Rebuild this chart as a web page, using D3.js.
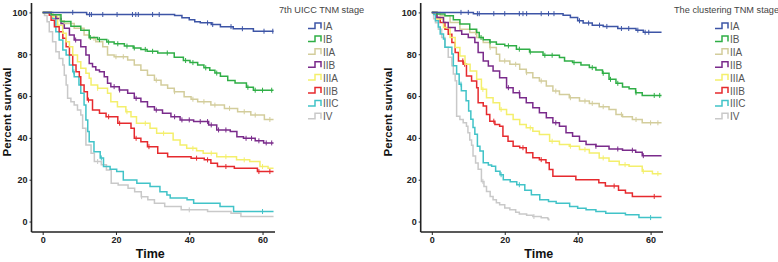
<!DOCTYPE html>
<html>
<head>
<meta charset="utf-8">
<script src="https://cdn.jsdelivr.net/npm/d3@7"></script>
<style>
  body { margin: 0; background: #fff; }
  svg { display: block; font-family: Arial, "Liberation Sans", sans-serif; }
  .axis text { font-size: 9px; font-weight: bold; fill: #222; }
  .axis path, .axis line { stroke: #222; }
</style>
</head>
<body>
<svg id="chart"></svg>
<script>
const stages = ["IA", "IB", "IIA", "IIB", "IIIA", "IIIB", "IIIC", "IV"];
const stageColors = ["#3d55a6", "#2fae46", "#d3cd9c", "#7a2b8b", "#f4ef6c", "#e62a2e", "#41c3c8", "#c9c9c9"];
const xTicks = [0, 20, 40, 60];
const yTicks = [0, 20, 40, 60, 80, 100];

// 7th UICC TNM stage: [time, percent survival] at each step
const uiccIA = [[0,100],[12,99],[36,98.5],[38,97.5],[40,96.5],[41.5,95.5],[43,95],[46,94.2],[48.5,93.2],[52,92.2],[57.5,91]];
const uiccIB = [[0,100],[2.3,98.9],[5,95.7],[7.7,93.4],[10.4,91.5],[12.7,88],[15,87],[17.5,85.8],[19.5,85],[22.3,83.9],[24.7,83],[26.8,82.3],[28.5,81.4],[31.4,80.6],[35.9,78.5],[38.4,77],[40.2,76],[42.3,74.8],[44,73.5],[45.6,72.3],[47,71],[48.5,69.5],[50.5,67.5],[52.5,66.2],[55.6,64.2],[57.5,62.8]];
const uiccIIA = [[0,100],[2.3,98.9],[4.7,96],[5.9,94.7],[8.6,92.4],[11.3,89.2],[12.7,87.6],[14.5,86],[16.4,83.6],[17.7,79.6],[19.5,78.8],[23.2,77.2],[25,74.8],[26.8,72.4],[28.6,70],[30.5,67.6],[32.3,65.3],[34.1,63.7],[35.9,62.1],[38.6,59.7],[40.5,58.5],[42.3,57.3],[45.9,55.7],[49.6,54.1],[53.2,52.5],[56.8,50.9],[60.5,48.8]];
const uiccIIB = [[0,100],[2.3,98.9],[3.6,97.1],[5,94.7],[5.9,92.4],[7.3,89.2],[8.6,86.8],[10.4,83.6],[11.8,79.6],[12.7,75.6],[13.6,74],[14.5,72.5],[15.5,71.6],[16.8,69.2],[17.7,66.1],[18.6,64.5],[20.9,62.9],[23.2,61.3],[25,58.9],[26.8,57.3],[28.6,54.9],[30.5,53.3],[32.7,51.8],[35,50.1],[37.5,48.6],[41.2,47.8],[45.3,46.2],[47.5,43.8],[51.2,43],[53,40.6],[54.8,39.8],[58,38.6],[60.3,37.6]];
const uiccIIIA = [[0,100],[2.7,97.9],[4.1,93.9],[5.5,90],[6.4,86],[7.3,83.6],[8.2,79.6],[9.5,76.4],[10.4,73.3],[11.8,70.9],[12.7,68.5],[13.2,65.3],[15,63.7],[17.7,61.3],[18.6,57.3],[20.4,54.9],[22.7,52.5],[24.1,50.1],[25.6,47],[29.3,44.6],[31.1,42.2],[35.6,39],[37.5,36.6],[39.3,35],[42,33.8],[43.8,32.7],[47.5,31],[52.9,29.5],[56.5,28.7],[59.3,26.3],[61.5,25.5]];
const uiccIIIB = [[0,100],[1.8,98.7],[2.3,96.3],[3.2,93.1],[4.5,90.7],[5.5,87.6],[6.4,83.6],[7.3,79.6],[8.2,74.8],[9.1,71.6],[10,69.2],[10.4,65.3],[11.3,62.1],[12.2,58.1],[13.6,53.3],[15.5,51.8],[17.3,50.1],[20.5,47],[24.1,44.6],[25,39.8],[26.8,38.2],[28.6,35.8],[31.4,32.7],[34.1,31],[40.5,30.3],[44.1,29.5],[45.9,27.9],[47.7,26.3],[52.3,25.5],[58.6,23.9]];
const uiccIIIC = [[0,100],[2.7,97.1],[3.6,90.7],[4.5,86.8],[5.5,82],[6.4,79.6],[7.3,74.8],[8.2,71.6],[8.6,69.2],[9.9,65.3],[10.4,61.3],[11.3,55.7],[11.8,48.6],[12.3,43],[12.7,38.2],[14,33.4],[15.7,30.4],[16.6,26.3],[18.4,25],[20.2,23.9],[22,19.9],[25.7,18.3],[29.3,16.7],[32,14.3],[33.9,12.7],[34.8,11.2],[39.4,10.4],[41.2,8.8],[48.4,7.2],[52.1,4.8]];
const uiccIV = [[0,100],[0.5,98.5],[1.2,95.5],[1.8,90.7],[2.7,86],[3.6,81.2],[4.5,78],[5.5,74.8],[5.9,70],[6.4,65.3],[6.8,58.9],[7.7,57.3],[8.6,55.7],[9.5,53.3],[10.4,51],[10.9,44.6],[11.8,36.6],[13.2,32.7],[14.1,28.7],[16,27.1],[17.4,24.7],[18.7,18.3],[20.6,17.5],[23.3,15.9],[25.1,14.3],[26.9,11.9],[28.7,10.4],[30.5,8.8],[33.3,7.2],[37.8,5.6],[45,4.8],[51.4,4],[54.1,2.4]];
const uiccEnds = [63, 63, 63, 63, 63, 63, 63, 63];
// censored times
const uiccCensIA = [8.2,12.8,13.3,16.4,20.3,24.5,25.4,26.1,30,31.8,45,46.4,51.4,54.5,60.4,62.8];
const uiccCensIB = [13,15.5,18,20.5,23,25,28,30,34,39,41,44.5,47.5,56,58,60,62.5];
const uiccCensIIA = [14,20,22,31,36,41,44,47,51,55,58,62];
const uiccCensIIB = [9,19.5,21,25.5,31,36,38,40,43,45,46,48,50,55.5,57,59,61,62.5];
const uiccCensIIIA = [15,23,28,33,41,46,50,55,60];
const uiccCensIIIB = [12.5,18,21,25.5,29,42,45,50,59,62];
const uiccCensIIIC = [8.5,16,60];
const uiccCensIV = [15,27,40];

// The clustering TNM stage
const clusIA = [[0,100],[11.4,99.4],[36,98.7],[38,97.6],[40,96],[41.5,94.9],[44,93.9],[47,93.3],[51,92.3],[56,91.5],[58,90.5]];
const clusIB = [[0,100],[1.4,99.2],[3.6,98.4],[5.9,96.5],[7.7,94.4],[10.4,92],[12.3,90.4],[13,88],[14.1,86.9],[15.9,85.9],[17.7,84.8],[20,84],[23.2,82.4],[26.8,81.1],[30.5,79.5],[35,78.4],[36.4,76.8],[38.6,76],[40.9,74.9],[43.2,73.6],[45,72.5],[46.8,70.9],[48.6,68],[50.5,66.1],[52.3,64.3],[54.1,63.5],[55.9,61.6],[57.7,60.3]];
const clusIIA = [[0,100],[2.3,98.4],[5,95.2],[7.7,92],[10.4,90.4],[12.3,88],[14.1,85.6],[15.9,83.2],[17.7,80],[18.6,76.8],[21.4,75.2],[24.1,72.8],[25.9,71.2],[27.7,68.8],[29.5,67.2],[31.4,64.8],[33.2,62.4],[35,60.8],[37.7,59.2],[40.5,57.6],[43.2,56.5],[45.9,54.9],[48.6,53.6],[50.5,51.2],[52.3,50.1],[55,48.8],[57.7,47.2]];
const clusIIB = [[0,100],[1.4,97.6],[3.2,95.2],[4.5,92.8],[6.4,91.2],[8.2,89.6],[10,88],[11.8,85.6],[12.7,80.8],[14.1,76.8],[15.5,74.4],[16.8,72],[18.6,68.8],[20.5,64],[22.3,61.6],[24.1,59.2],[25.9,56.8],[27.7,54.4],[29.5,52],[31.4,49.6],[33.2,47.2],[35,45.6],[36.8,42.4],[38.6,40.8],[40.5,38.4],[42.3,36.8],[45,36],[48.6,34.7],[52.3,34.1],[55.9,33.1],[57.7,31.5]];
const clusIIIA = [[0,100],[1.4,96.8],[3.2,92.8],[5,88],[6.4,83.2],[7.7,79.2],[9.1,75.2],[10.5,72],[12.3,68],[13.6,63.2],[15,59.2],[16.8,56.8],[18.6,53.6],[20.5,51.2],[22.3,48.8],[24.1,46.4],[25.9,44.8],[27.7,43.2],[29.5,41.6],[32.3,38.4],[35,36.8],[37.7,36],[40.5,34.4],[43.2,32.8],[45.9,30.4],[48.6,28.8],[51.4,27.2],[54.1,26.4],[57.7,24],[60.5,22.9]];
const clusIIIB = [[0,100],[1.4,97.6],[2.3,95.2],[3.6,92],[4.5,89.6],[5.5,85.6],[6.4,80.8],[7.3,76.8],[8.6,75.2],[9.5,69.6],[10.9,67.2],[12.3,64],[12.7,56.8],[14.1,55.2],[15,51.2],[15.9,48],[17.3,46.4],[18.6,45.6],[19.5,40.8],[20.9,38.4],[22.3,36],[24.1,35.3],[25.9,32.9],[27.7,30.5],[29.5,29.6],[31.3,28.1],[32.2,24.9],[33.2,21.6],[39.5,20],[45.8,18.5],[47.6,17],[51.2,15],[53.1,13.6],[55,12]];
const clusIIIC = [[0,100],[0.5,99],[1,96],[1.8,93],[2.3,89.7],[3.2,87.3],[3.6,83.4],[5.5,80.1],[5.9,74.5],[6.8,70.5],[7.5,65.7],[8.1,62.5],[9.4,57.7],[10.1,52.9],[10.7,48.9],[11.3,45],[11.8,41.7],[12.5,36],[13.2,33.7],[14.1,28.1],[15.5,27],[16.4,26.4],[17.5,24],[18.7,22.4],[19.6,20],[21.5,19],[23.3,17.6],[25.5,15],[27.3,12.8],[29.6,10.4],[32,9.6],[34.1,8.8],[37.8,7.2],[40,6.4],[42.3,5.6],[45,4.8],[47.7,4],[53.1,3.2],[56.8,1.9]];
const clusIV = [[0,100],[0.5,97],[1,95],[1.8,92],[2.7,88],[3.6,83.4],[4.5,78.6],[5.5,74.5],[5.9,70.5],[6.4,67.3],[6.8,50.4],[7.7,48.8],[8.6,47.2],[9.5,45.6],[9.9,42.4],[10.4,39],[10.9,36.5],[11.3,31.3],[12,28],[12.7,25],[13.6,19.2],[14.3,16.8],[15,14.4],[16,12],[16.8,10.4],[17.7,9],[18.6,8],[20,6.5],[21.4,5.6],[23,4.4],[24,3.6],[26,3],[27.7,2.4],[30,1.8],[31.8,1.3],[32,0.8]];
const clusEnds = [63, 63, 63, 63, 63, 63, 63, 32.3];
const clusCensIA = [8,10,12.5,13,17,20,24,25,26,30,32,33.5,40.5,43,46,48,52,54,56.5,58.5,59.5];
const clusCensIB = [13.5,16,21,24,27,31,33,39,44,47,49,51,56,61,62.5];
const clusCensIIA = [12,16,20,23,26,30,34,38,42,44,47,52,56,60,62];
const clusCensIIB = [21,24,34,45,51,55,58];
const clusCensIIIA = [14,19,27,33,38,42,47,53,58,62];
const clusCensIIIB = [8.5,9,17,25,30,50,61];
const clusCensIIIC = [8,19,24,60];
const clusCensIV = [14,28];

const width = 778;
const height = 262;

const panels = [
  {
    left: 31.5, right: 275, title: "7th UICC TNM stage", titleX: 279, legendX: 308, yLabelX: 11,
    curves: [uiccIA, uiccIB, uiccIIA, uiccIIB, uiccIIIA, uiccIIIB, uiccIIIC, uiccIV],
    cens: [uiccCensIA, uiccCensIB, uiccCensIIA, uiccCensIIB, uiccCensIIIA, uiccCensIIIB, uiccCensIIIC, uiccCensIV],
    ends: uiccEnds,
  },
  {
    left: 420.7, right: 663, title: "The clustering TNM stage", titleX: 674, legendX: 715, yLabelX: 392,
    curves: [clusIA, clusIB, clusIIA, clusIIB, clusIIIA, clusIIIB, clusIIIC, clusIV],
    cens: [clusCensIA, clusCensIB, clusCensIIA, clusCensIIB, clusCensIIIA, clusCensIIIB, clusCensIIIC, clusCensIV],
    ends: clusEnds,
  },
];

const svg = d3.select("#chart").attr("width", width).attr("height", height);

const plotTop = 3;
const plotBottom = 232;

panels.forEach((p) => {
  const x = d3.scaleLinear().domain([-3.05, 63.4]).range([p.left, p.right]);
  const y = d3.scaleLinear().domain([-5, 104.5]).range([plotBottom, plotTop]);
  const g = svg.append("g");

  g.append("g")
    .attr("class", "axis")
    .attr("transform", `translate(${p.left},0)`)
    .call(d3.axisLeft(y).tickValues(yTicks).tickSize(2).tickPadding(2).tickSizeOuter(0))
    .call((a) => a.select(".domain").attr("d", `M0,${plotTop}V${plotBottom}`).attr("stroke-width", 1.6));

  g.append("g")
    .attr("class", "axis")
    .attr("transform", `translate(0,${plotBottom})`)
    .call(d3.axisBottom(x).tickValues(xTicks).tickSize(3).tickPadding(2).tickSizeOuter(0))
    .call((a) => a.select(".domain").attr("d", `M${p.left},0H${p.right}`).attr("stroke-width", 1.6));

  const line = d3.line()
    .x((d) => x(d[0]))
    .y((d) => y(d[1]))
    .curve(d3.curveStepAfter);

  // draw from the last stage to the first so IA sits on top
  for (let i = stages.length - 1; i >= 0; i--) {
    const pts = p.curves[i].concat([[p.ends[i], p.curves[i][p.curves[i].length - 1][1]]]);
    g.append("path")
      .attr("d", line(pts))
      .attr("fill", "none")
      .attr("stroke", stageColors[i])
      .attr("stroke-width", 1.5);

    const surv = (t) => {
      let v = 100;
      p.curves[i].forEach((d) => { if (d[0] <= t) v = d[1]; });
      return v;
    };
    g.selectAll(null)
      .data(p.cens[i])
      .join("line")
      .attr("x1", (t) => x(t))
      .attr("x2", (t) => x(t))
      .attr("y1", (t) => y(surv(t)) - 2.5)
      .attr("y2", (t) => y(surv(t)) + 2.5)
      .attr("stroke", stageColors[i])
      .attr("stroke-width", 1);
  }

  g.append("text")
    .attr("x", (p.left + p.right) / 2 - 3)
    .attr("y", 258)
    .attr("text-anchor", "middle")
    .attr("font-size", 12.5)
    .attr("font-weight", "bold")
    .attr("fill", "#111")
    .text("Time");

  g.append("text")
    .attr("transform", `translate(${p.yLabelX},${y(50) - 5}) rotate(-90)`)
    .attr("text-anchor", "middle")
    .attr("font-size", 11.5)
    .attr("font-weight", "bold")
    .attr("fill", "#111")
    .text("Percent survival");

  g.append("text")
    .attr("x", p.titleX)
    .attr("y", 13)
    .attr("font-size", 9.2)
    .attr("fill", "#444")
    .text(p.title);

  const leg = g.selectAll("g.leg")
    .data(stages)
    .join("g")
    .attr("class", "leg")
    .attr("transform", (d, i) => `translate(${p.legendX},${26 + i * 12.9})`);
  leg.append("path")
    .attr("d", "M0,2.5H7V-3H13V2.5")
    .attr("fill", "none")
    .attr("stroke", (d, i) => stageColors[i])
    .attr("stroke-width", 1.5);
  leg.append("text")
    .attr("x", 15)
    .attr("y", 4)
    .attr("font-size", 10)
    .attr("fill", "#555")
    .text((d) => d);
});
</script>
</body>
</html>
